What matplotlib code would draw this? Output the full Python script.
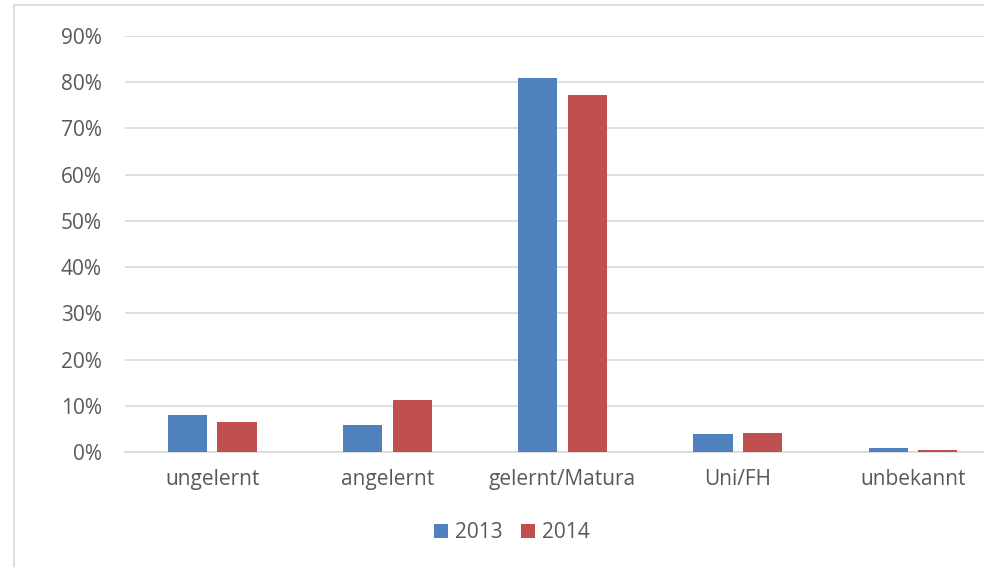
import matplotlib.pyplot as plt
import numpy as np
from matplotlib.patches import Rectangle

# Daten aus dem Diagramm (Anteile in %)
categories = ["ungelernt", "angelernt", "gelernt/Matura", "Uni/FH", "unbekannt"]
values_2013 = [8.0, 5.9, 80.9, 3.9, 0.9]
values_2014 = [6.4, 11.2, 77.3, 4.1, 0.5]
years = ["2013", "2014"]
y_ticks = [0, 10, 20, 30, 40, 50, 60, 70, 80, 90]

plt.rcParams['font.family'] = ['Open Sans', 'DejaVu Sans']

fig = plt.figure(figsize=(9.84, 5.67), dpi=100)
W, H = 984, 567

# Rahmen um das Diagramm
fig.patches.append(Rectangle((14 / W, -0.01), 1.0, (H - 5) / H + 0.01,
                             transform=fig.transFigure, fill=False,
                             edgecolor='#D9D9D9', linewidth=1.2))

# Zeichenfläche geht rechts über den Bildrand hinaus
ax = fig.add_axes([124.6 / W, (H - 452) / H, 876 / W, (452 - 36) / H])

x = np.arange(len(categories))
w = 0.223
off = 0.1416
ax.bar(x - off, values_2013, w, color='#4F81BD', label=years[0], zorder=3)
ax.bar(x + off, values_2014, w, color='#C0504D', label=years[1], zorder=3)

ax.set_xlim(-0.5, len(categories) - 0.5)
ax.set_ylim(0, 90)
ax.set_yticks(y_ticks)
ax.set_yticklabels([f"{v}%" for v in y_ticks])
ax.set_xticks(x)
ax.set_xticklabels(categories)

ax.grid(axis='y', color='#D9D9D9', linewidth=1.2, zorder=0)
for s in ['top', 'right', 'left']:
    ax.spines[s].set_visible(False)
ax.spines['bottom'].set_color('#D9D9D9')
ax.spines['bottom'].set_linewidth(1.2)
ax.tick_params(axis='both', length=0, colors='#595959', labelsize=15)
ax.tick_params(axis='y', pad=16.5)
ax.tick_params(axis='x', pad=12)

ax.legend(loc='center', bbox_to_anchor=(512 / W, 1 - 533 / H),
          bbox_transform=fig.transFigure, ncol=2, frameon=False,
          fontsize=15, labelcolor='#595959', handlelength=0.67,
          handleheight=0.67, handletextpad=0.32, columnspacing=0.9)

plt.savefig("out.png")
